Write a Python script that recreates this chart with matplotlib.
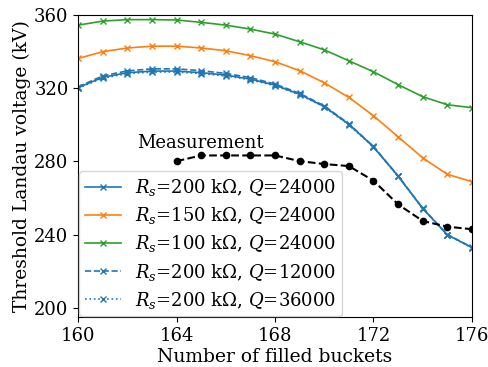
# Threshold Landau voltage vs number of filled buckets
import numpy as np
import matplotlib
matplotlib.use("Agg")
import matplotlib.pyplot as plt

plt.rcParams['font.family'] = 'DejaVu Serif'
plt.rcParams['mathtext.fontset'] = 'dejavuserif'
plt.rcParams['font.size'] = 13

# simulation, one point per bucket count
buckets = np.arange(160, 177)
rs200_q24 = [320.4, 326.0, 328.5, 329.4, 329.4, 328.5, 327.2, 325.0, 321.7,
             316.7, 310.0, 300.3, 288.0, 272.0, 254.4, 240.0, 233.0]
rs150_q24 = [336.3, 340.0, 342.0, 343.0, 343.0, 342.0, 340.5, 337.8, 334.5,
             329.6, 323.0, 315.0, 305.0, 293.5, 282.0, 273.0, 269.0]
rs100_q24 = [354.5, 356.7, 357.5, 357.5, 357.3, 356.0, 354.5, 352.3, 349.6,
             345.4, 341.0, 335.0, 329.0, 322.0, 315.4, 311.0, 309.4]
rs200_q12 = [320.8, 326.8, 329.5, 330.6, 330.6, 329.6, 328.1, 325.8, 322.3,
             317.2, 310.4, 300.6, 288.2, 272.2, 254.5, 240.1, 233.1]
rs200_q36 = [320.1, 325.6, 328.0, 328.9, 328.9, 328.0, 326.8, 324.6, 321.4,
             316.4, 309.8, 300.1, 287.9, 271.9, 254.3, 239.9, 232.9]

# measured points
meas_buckets = np.arange(164, 177)
meas_volt = [280.2, 283.3, 283.3, 283.3, 283.3, 280.2, 278.6, 277.5, 269.5,
             256.6, 247.5, 244.4, 243.0]

fig = plt.figure(figsize=(4.89, 3.67), dpi=100)
ax = fig.add_axes([0.16, 0.136, 0.805, 0.823])

sim_style = dict(marker='x', ms=4.5, lw=1.2, color='C0')
ax.plot(buckets, rs200_q24, '-', label=r'$R_s$=200 k$\Omega$, $Q$=24000', **sim_style)
ax.plot(buckets, rs150_q24, '-', marker='x', ms=4.5, lw=1.2, color='C1', label=r'$R_s$=150 k$\Omega$, $Q$=24000')
ax.plot(buckets, rs100_q24, '-', marker='x', ms=4.5, lw=1.2, color='C2', label=r'$R_s$=100 k$\Omega$, $Q$=24000')
ax.plot(buckets, rs200_q12, '--', label=r'$R_s$=200 k$\Omega$, $Q$=12000', **sim_style)
ax.plot(buckets, rs200_q36, ':', label=r'$R_s$=200 k$\Omega$, $Q$=36000', **sim_style)

ax.plot(meas_buckets, meas_volt, 'k--', marker='o', ms=4.5, lw=1.5)
ax.text(162.4, 287.3, 'Measurement')

ax.set_xlim(160, 176)
ax.set_ylim(195, 360)
ax.set_xticks([160, 164, 168, 172, 176])
ax.set_yticks([200, 240, 280, 320, 360])
ax.set_xlabel('Number of filled buckets', fontsize=13.5, labelpad=2)
ax.set_ylabel('Threshold Landau voltage (kV)', fontsize=13.5, labelpad=2)
ax.legend(loc='lower left', handlelength=2.0, borderaxespad=0.05,
          labelspacing=0.4, borderpad=0.3)

fig.savefig('out.png', dpi=100)
